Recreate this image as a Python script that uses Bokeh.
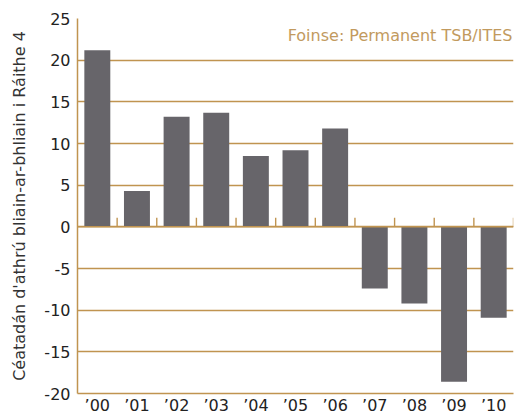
from bokeh.plotting import figure
from bokeh.models import FixedTicker, Range1d, Label, ColumnDataSource
from bokeh.embed import file_html
from bokeh.resources import INLINE

years = ["’00", "’01", "’02", "’03", "’04", "’05", "’06", "’07", "’08", "’09", "’10"]
values = [21.2, 4.3, 13.2, 13.7, 8.5, 9.2, 11.8, -7.4, -9.2, -18.6, -10.9]
y_ticks = [-20, -15, -10, -5, 0, 5, 10, 15, 20, 25]
source_text = "Foinse: Permanent TSB/ITES"
y_title = "Céatadán d'athrú bliain-ar-bhliain i Ráithe 4"

GOLD = "#c09450"
BAR = "#67656a"
FONT = "DejaVu Sans"

n = len(years)
xs = list(range(n))

p = figure(frame_width=436, frame_height=375, output_backend="svg", toolbar_location=None,
           x_range=Range1d(-0.5, n - 0.5), y_range=Range1d(-20, 25),
           min_border_left=77, min_border_right=1, min_border_top=18, min_border_bottom=0)
p.outline_line_color = None

src = ColumnDataSource(dict(x=xs, top=values))
p.vbar(x="x", top="top", bottom=0, width=0.655, source=src, fill_color=BAR, line_color=None)

# zero line and small category-boundary ticks on it
p.line(x=[-0.5, n - 0.5], y=[0, 0], line_color=GOLD, line_width=1.5)
tick_src = ColumnDataSource(dict(x=[i + 0.5 for i in xs], y0=[0.0] * n, y1=[1.1] * n))
p.vbar(x="x", bottom="y0", top="y1", width=0.035, source=tick_src,
       fill_color=GOLD, line_color=None)

# y axis
p.yaxis.ticker = FixedTicker(ticks=y_ticks)
p.yaxis.major_label_overrides = {t: str(t) for t in y_ticks}
p.yaxis.axis_line_color = GOLD
p.yaxis.axis_line_width = 1.5
p.yaxis.major_tick_line_color = None
p.yaxis.minor_tick_line_color = None
p.yaxis.major_tick_out = 0
p.yaxis.major_tick_in = 0
p.yaxis.major_label_text_font = FONT
p.yaxis.major_label_text_font_size = "16px"
p.yaxis.major_label_text_color = "#222222"
p.yaxis.major_label_standoff = 7
p.yaxis.axis_label = y_title
p.yaxis.axis_label_text_font = FONT
p.yaxis.axis_label_text_font_size = "16px"
p.yaxis.axis_label_text_font_style = "normal"
p.yaxis.axis_label_text_color = "#333333"
p.yaxis.axis_label_standoff = 12

# x axis
p.xaxis.ticker = FixedTicker(ticks=xs)
p.xaxis.major_label_overrides = {i: y for i, y in zip(xs, years)}
p.xaxis.axis_line_color = GOLD
p.xaxis.axis_line_width = 1.5
p.xaxis.major_tick_line_color = None
p.xaxis.minor_tick_line_color = None
p.xaxis.major_tick_out = 0
p.xaxis.major_tick_in = 0
p.xaxis.major_label_text_font = FONT
p.xaxis.major_label_text_font_size = "16px"
p.xaxis.major_label_text_color = "#222222"
p.xaxis.major_label_standoff = 2

p.xgrid.grid_line_color = None
p.ygrid.ticker = FixedTicker(ticks=y_ticks)
p.ygrid.grid_line_color = GOLD
p.ygrid.grid_line_width = 1.5

p.add_layout(Label(x=n - 0.5, y=23, text=source_text, text_align="right", text_baseline="middle",
                   x_offset=-1, text_font=FONT, text_font_size="16px", text_color="#c29a5e"))

open("out.html", "w").write(file_html(p, INLINE))
